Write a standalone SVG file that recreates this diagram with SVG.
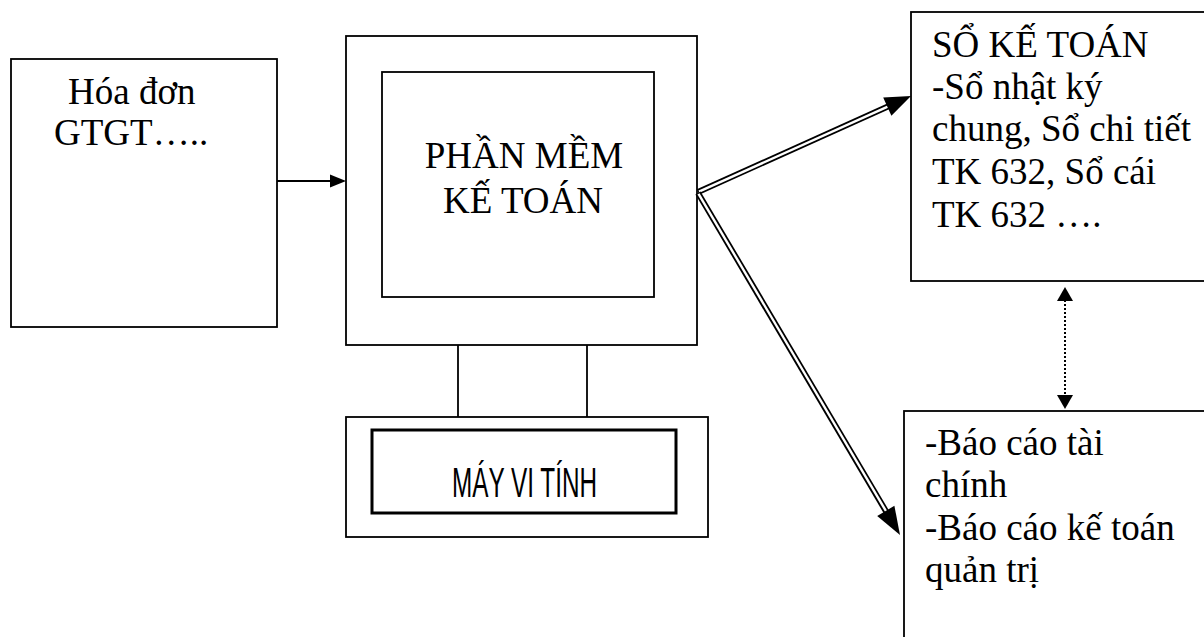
<svg xmlns="http://www.w3.org/2000/svg" width="1204" height="637" viewBox="0 0 1204 637">
  <style>
    .box { fill: #ffffff; stroke: #000000; stroke-width: 1.8; }
    .thick { fill: #ffffff; stroke: #000000; stroke-width: 3; }
    .serif { font-family: "Liberation Serif", "Times New Roman", serif; font-size: 37px; fill: #000000; }
    .narrow { font-family: "Liberation Sans Narrow", "Liberation Sans", Arial, sans-serif; font-size: 43px; fill: #000000; }
    .line { fill: none; stroke: #000000; stroke-width: 1.8; }
    .dbl-outer { fill: none; stroke: #000000; stroke-width: 6; }
    .dbl-inner { fill: none; stroke: #ffffff; stroke-width: 2.4; }
    .dotted { fill: none; stroke: #000000; stroke-width: 2; stroke-dasharray: 2 2; }
    .head { fill: #000000; stroke: none; }
  </style>

  <rect width="1204" height="637" fill="#ffffff"/>

  <!-- Invoice source -->
  <g id="hoa-don">
    <rect class="box" x="11" y="59" width="266" height="268"/>
    <text class="serif" x="68" y="104">Hóa đơn</text>
    <text class="serif" x="54" y="145">GTGT…..</text>
  </g>

  <!-- Monitor with accounting software -->
  <g id="phan-mem">
    <rect class="box" x="346" y="36" width="351" height="309"/>
    <rect class="box" x="382" y="72" width="272" height="225"/>
    <text class="serif" x="524" y="168" text-anchor="middle">PHẦN MỀM</text>
    <text class="serif" x="523" y="213" text-anchor="middle">KẾ TOÁN</text>
  </g>

  <!-- Monitor stand -->
  <g id="chan-man-hinh">
    <line class="line" x1="458" y1="345" x2="458" y2="417"/>
    <line class="line" x1="587" y1="345" x2="587" y2="419"/>
  </g>

  <!-- Computer base -->
  <g id="may-vi-tinh">
    <rect class="box" x="346" y="417" width="362" height="120"/>
    <rect class="thick" x="372" y="430" width="304" height="83"/>
    <text class="narrow" x="524.5" y="497" text-anchor="middle" textLength="145" lengthAdjust="spacingAndGlyphs">MÁY VI TÍNH</text>
  </g>

  <!-- Ledgers -->
  <g id="so-ke-toan">
    <rect class="box" x="911" y="12" width="310" height="269"/>
    <text class="serif" x="932" y="57">SỔ KẾ TOÁN</text>
    <text class="serif" x="932" y="99">-Sổ nhật ký</text>
    <text class="serif" x="932" y="141">chung, Sổ chi tiết</text>
    <text class="serif" x="932" y="184">TK 632, Sổ cái</text>
    <text class="serif" x="932" y="227">TK 632 ….</text>
  </g>

  <!-- Reports -->
  <g id="bao-cao">
    <rect class="box" x="904" y="411" width="320" height="240"/>
    <text class="serif" x="925" y="455">-Báo cáo tài</text>
    <text class="serif" x="925" y="497">chính</text>
    <text class="serif" x="925" y="540">-Báo cáo kế toán</text>
    <text class="serif" x="925" y="582">quản trị</text>
  </g>

  <!-- Connectors -->
  <g id="connectors">
    <!-- invoice to software -->
    <line class="line" x1="277" y1="181" x2="334" y2="181"/>
    <polygon class="head" points="346,181 330,174.5 330,187.5"/>

    <!-- software to ledgers (double line) -->
    <line class="dbl-outer" x1="698" y1="192" x2="889" y2="106"/>
    <line class="dbl-inner" x1="699" y1="191.6" x2="890" y2="105.6"/>
    <polygon class="head" points="911,96 891.4,115.8 883.2,97.6"/>

    <!-- software to reports (double line) -->
    <line class="dbl-outer" x1="698" y1="193" x2="887" y2="513"/>
    <line class="dbl-inner" x1="698.5" y1="193.8" x2="888" y2="514.5"/>
    <polygon class="head" points="900,535 877.2,516 894.4,505.8"/>

    <!-- ledgers and reports, both ways -->
    <line class="dotted" x1="1065" y1="300" x2="1065" y2="396"/>
    <polygon class="head" points="1065,287 1057,301 1073,301"/>
    <polygon class="head" points="1065,409 1057,395 1073,395"/>
  </g>
</svg>
